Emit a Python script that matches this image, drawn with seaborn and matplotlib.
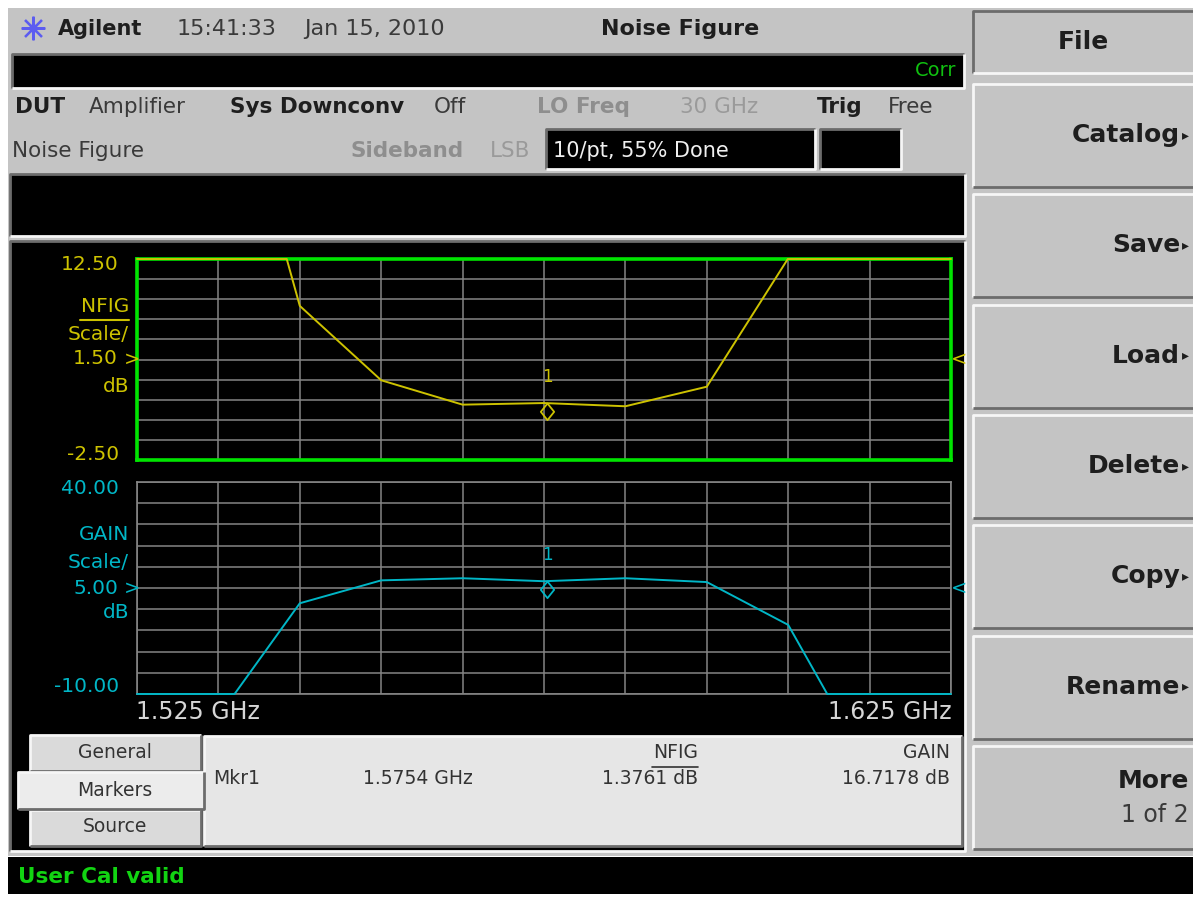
import numpy as np
import matplotlib
matplotlib.use("Agg")
import matplotlib.pyplot as plt
import seaborn as sns
from matplotlib.path import Path
from matplotlib.patches import Rectangle

# Noise figure analyzer screen: NFIG and GAIN sweeps
freq_ghz = [1.525, 1.535, 1.545, 1.555, 1.565, 1.575, 1.585, 1.595, 1.605, 1.615, 1.625]
nfig_db = [34.0, 30.8, 9.0, 3.45, 1.63, 1.75, 1.51, 2.97, 12.55, 22.0, 30.0]
gain_db = [-16.0, -15.3, 11.4, 16.8, 17.3, 16.6, 17.3, 16.4, 6.3, -27.7, -30.0]

nfig_range = [-2.50, 12.50]
gain_range = [-10.00, 40.00]
nfig_scale = "1.50"
gain_scale = "5.00"

mkr_freq = 1.5754
mkr_nfig_txt = "1.3761 dB"
mkr_gain_txt = "16.7178 dB"

softkeys = ["Catalog", "Save", "Load", "Delete", "Copy", "Rename"]

W, H = 1193, 899
GRAY = "#c4c4c4"
YEL = "#cdc200"
CYAN = "#00b6c6"
GREEN = "#00e400"
GRID = "#858585"
DIM = "#8e8e8e"
INK = "#1e1e1e"

sns.set_style("dark")
plt.rcParams["font.family"] = ["DejaVu Sans"]


def clip_trace(x, y, lo, hi):
    # instrument pins off-screen points to the graticule edge
    xs, ys = [x[0]], [y[0]]
    for i in range(1, len(x)):
        x0, y0, x1, y1 = x[i - 1], y[i - 1], x[i], y[i]
        cuts = []
        for b in (lo, hi):
            if (y0 - b) * (y1 - b) < 0:
                cuts.append((b - y0) / (y1 - y0))
        for t in sorted(cuts):
            xs.append(x0 + t * (x1 - x0))
            ys.append(y0 + t * (y1 - y0))
        xs.append(x1)
        ys.append(y1)
    return np.array(xs), np.clip(np.array(ys), lo, hi)


def rect(x0, y0, x1, y1):
    return [x0 / W, 1 - y1 / H, (x1 - x0) / W, (y1 - y0) / H]


def box(ax, x0, y0, x1, y1, face, raised=True, lw=2):
    ax.add_patch(Rectangle((x0, y0), x1 - x0, y1 - y0, facecolor=face, edgecolor="none"))
    hi, lo = ("#f6f6f6", "#6c6c6c") if raised else ("#6c6c6c", "#f6f6f6")
    ax.plot([x0, x0, x1], [y1, y0, y0], color=hi, lw=lw, solid_capstyle="butt")
    ax.plot([x0, x1, x1], [y1, y1, y0], color=lo, lw=lw, solid_capstyle="butt")


fig = plt.figure(figsize=(W / 100, H / 100), dpi=100, facecolor="white")

# screen chrome drawn in pixel coordinates
bg = fig.add_axes([0, 0, 1, 1])
bg.set_xlim(0, W)
bg.set_ylim(H, 0)
bg.axis("off")

bg.add_patch(Rectangle((8, 8), W - 8, 848, facecolor=GRAY, edgecolor="none"))

# header
bg.plot(33, 28, marker=(8, 2, 0), ms=17, mew=1.6, color="#5c5cf0")
bg.plot(33, 28, marker="o", ms=5, mfc="none", mew=1, color="#5c5cf0")
bg.text(58, 29, "Agilent", fontsize=15, fontweight="bold", color=INK, va="center")
bg.text(177, 29, "15:41:33", fontsize=16, color="#3a3a3a", va="center")
bg.text(304, 29, "Jan 15, 2010", fontsize=16, color="#3a3a3a", va="center")
bg.text(680, 29, "Noise Figure", fontsize=16, fontweight="bold", color=INK,
        va="center", ha="center")

box(bg, 12, 54, 964, 88, "black", raised=False)
bg.text(956, 70, "Corr", fontsize=14, color="#10c010", va="center", ha="right")

row3 = [(15, "DUT", True, INK), (89, "Amplifier", False, "#3a3a3a"),
        (230, "Sys Downconv", True, INK), (434, "Off", False, "#3a3a3a"),
        (537, "LO Freq", True, DIM), (680, "30 GHz", False, "#9a9a9a"),
        (817, "Trig", True, INK), (888, "Free", False, "#3a3a3a")]
for x, s, b, c in row3:
    bg.text(x, 107, s, fontsize=15.5, fontweight="bold" if b else "normal",
            color=c, va="center")

bg.text(12, 151, "Noise Figure", fontsize=15.5, color="#3a3a3a", va="center")
bg.text(350, 151, "Sideband", fontsize=15.5, fontweight="bold", color=DIM, va="center")
bg.text(490, 151, "LSB", fontsize=15.5, color="#9a9a9a", va="center")
box(bg, 546, 129, 815, 169, "black", raised=False)
bg.text(553, 151, "10/pt, 55% Done", fontsize=15, color="#f0f0f0", va="center")
box(bg, 820, 129, 901, 169, "black", raised=False)

box(bg, 10, 174, 965, 236, "black", raised=False)
box(bg, 10, 241, 965, 851, "black", raised=False)

# scale annotations
for y, s in [(265, "12.50"), (455, "-2.50")]:
    bg.text(119, y, s, fontsize=14.5, color=YEL, ha="right", va="center")
bg.text(129, 306, "NFIG", fontsize=14.5, color=YEL, ha="right", va="center")
bg.plot([80, 129], [320, 320], color=YEL, lw=1.5)
bg.text(129, 335, "Scale/", fontsize=14.5, color=YEL, ha="right", va="center")
bg.text(118, 358, nfig_scale, fontsize=14.5, color=YEL, ha="right", va="center")
bg.text(129, 386, "dB", fontsize=14.5, color=YEL, ha="right", va="center")

for y, s in [(489, "40.00"), (686, "-10.00")]:
    bg.text(119, y, s, fontsize=14.5, color=CYAN, ha="right", va="center")
bg.text(129, 535, "GAIN", fontsize=14.5, color=CYAN, ha="right", va="center")
bg.text(129, 563, "Scale/", fontsize=14.5, color=CYAN, ha="right", va="center")
bg.text(118, 588, gain_scale, fontsize=14.5, color=CYAN, ha="right", va="center")
bg.text(129, 612, "dB", fontsize=14.5, color=CYAN, ha="right", va="center")

bg.text(136, 712, f"{freq_ghz[0]:.3f} GHz", fontsize=17, color="#d6d6d6", va="center")
bg.text(952, 712, f"{freq_ghz[-1]:.3f} GHz", fontsize=17, color="#d6d6d6",
        va="center", ha="right")

# marker table and tabs
box(bg, 204, 736, 962, 846, "#e6e6e6")
box(bg, 30, 735, 201, 771, "#dadada")
box(bg, 30, 810, 201, 846, "#dadada")
box(bg, 18, 772, 204, 809, "#ececec")
bg.text(115, 752, "General", fontsize=13.5, color="#333333", ha="center", va="center")
bg.text(115, 790, "Markers", fontsize=13.5, color="#333333", ha="center", va="center")
bg.text(115, 827, "Source", fontsize=13.5, color="#333333", ha="center", va="center")

bg.text(213, 779, "Mkr1", fontsize=13.5, color="#333333", va="center")
bg.text(363, 779, f"{mkr_freq:.4f} GHz", fontsize=13.5, color="#333333", va="center")
bg.text(698, 752, "NFIG", fontsize=13.5, color="#333333", ha="right", va="center")
bg.plot([652, 698], [767, 767], color="#333333", lw=1.2)
bg.text(698, 779, mkr_nfig_txt, fontsize=13.5, color="#333333", ha="right", va="center")
bg.text(950, 752, "GAIN", fontsize=13.5, color="#333333", ha="right", va="center")
bg.text(950, 779, mkr_gain_txt, fontsize=13.5, color="#333333", ha="right", va="center")

# status line
bg.add_patch(Rectangle((8, 857), W - 8, 37, facecolor="black", edgecolor="none"))
bg.text(18, 877, "User Cal valid", fontsize=15.5, fontweight="bold", color="#12d412",
        va="center")

# softkey column
box(bg, 973, 11, 1195, 73, GRAY, raised=False)
bg.text(1083, 42, "File", fontsize=18, fontweight="bold", color=INK, ha="center", va="center")
key_top = 84
for i, name in enumerate(softkeys + ["More"]):
    y0 = key_top + i * 110.3
    y1 = y0 + 103
    box(bg, 973, y0, 1195, y1, GRAY)
    if name == "More":
        bg.text(1189, y0 + 35, "More", fontsize=18, fontweight="bold", color=INK,
                ha="right", va="center")
        bg.text(1189, y0 + 69, "1 of 2", fontsize=17, color="#3a3a3a",
                ha="right", va="center")
    else:
        bg.text(1180, y0 + 51, name, fontsize=18, fontweight="bold", color=INK,
                ha="right", va="center")
        bg.text(1185, y0 + 51, "\u25b8", fontsize=10, color=INK, ha="center", va="center")

# trace graticules
diamond = Path([(0, 0), (0.4, -0.5), (0, -1), (-0.4, -0.5), (0, 0)],
               [Path.MOVETO, Path.LINETO, Path.LINETO, Path.LINETO, Path.CLOSEPOLY])

panels = [
    (rect(137, 259, 951, 460), nfig_db, nfig_range, YEL, GREEN, 2.6),
    (rect(137, 482, 951, 694), gain_db, gain_range, CYAN, GRID, 1.2),
]
for pos, vals, (lo, hi), col, frame, flw in panels:
    ax = fig.add_axes(pos)
    ax.set_facecolor("black")
    ax.set_xlim(freq_ghz[0], freq_ghz[-1])
    ax.set_ylim(lo, hi)
    ax.set_xticks(freq_ghz)
    ax.set_yticks(np.linspace(lo, hi, 11))
    ax.tick_params(length=0, labelleft=False, labelbottom=False)
    ax.grid(True, color=GRID, lw=1.1)
    for sp in ax.spines.values():
        sp.set_visible(True)
        sp.set_color(frame)
        sp.set_linewidth(flw)
    ax.set_xlabel("")
    ax.set_ylabel("")

    tx, ty = clip_trace(freq_ghz, vals, lo, hi)
    sns.lineplot(x=tx, y=ty, ax=ax, color=col, lw=1.4, estimator=None, sort=False,
                 clip_on=False, zorder=4)
    ax.set_xlim(freq_ghz[0], freq_ghz[-1])
    ax.set_ylim(lo, hi)

    m = np.interp(mkr_freq, freq_ghz, vals)
    ax.plot(mkr_freq, m, marker=diamond, ms=24, mfc="none", mec=col, mew=1.3, zorder=5)
    ax.annotate("1", (mkr_freq, m), xytext=(0, 19), textcoords="offset points",
                ha="center", va="center", fontsize=12, color=col)

    # reference level arrows at the graticule centre
    ax.text(-0.006, 0.5, ">", transform=ax.transAxes, ha="center", va="center",
            fontsize=14, color=col)
    ax.text(1.010, 0.5, "<", transform=ax.transAxes, ha="center", va="center",
            fontsize=14, color=col)

fig.savefig("out.png", dpi=100, facecolor=fig.get_facecolor())
